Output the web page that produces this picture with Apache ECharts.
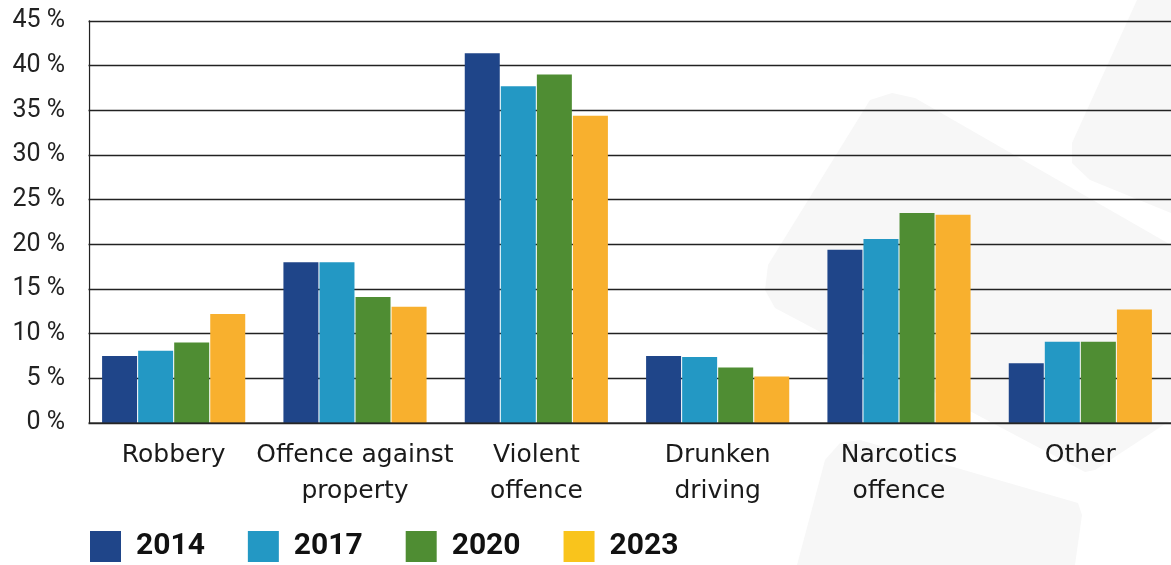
<!DOCTYPE html>
<html>
<head>
<meta charset="utf-8">
<script src="https://cdn.jsdelivr.net/npm/echarts@6/dist/echarts.min.js"></script>
<style>
html,body{margin:0;padding:0;background:#fff;}
#c{width:1171px;height:565px;}
</style>
</head>
<body>
<div id="c"></div>
<script>
const categories = ['Robbery', 'Offence against\nproperty', 'Violent\noffence', 'Drunken\ndriving', 'Narcotics\noffence', 'Other'];
const years = ['2014', '2017', '2020', '2023'];
const v2014 = [7.5, 18.0, 41.4, 7.5, 19.4, 6.7];
const v2017 = [8.1, 18.0, 37.7, 7.4, 20.6, 9.1];
const v2020 = [9.0, 14.1, 39.0, 6.2, 23.5, 9.1];
const v2023 = [12.2, 13.0, 34.4, 5.2, 23.3, 12.7];
const yTicks = { min: 0, max: 45, interval: 5 };

const barColors = ['#1F4589', '#2398C4', '#4F8D33', '#F8B02E'];
const legendColors = ['#1F4589', '#2398C4', '#4F8D33', '#F9C41C'];
const seriesValues = [v2014, v2017, v2020, v2023];

const chart = echarts.init(document.getElementById('c'), null, { renderer: 'canvas' });
const wm = '#f7f7f7';
chart.setOption({
  animation: false,
  backgroundColor: '#fff',
  grid: { left: 83, right: -2, top: 21, bottom: 142, containLabel: false },
  graphic: [
    { type: 'polygon', z: -10, shape: { points: [[870,100],[892,93],[915,98],[1171,245],[1171,420],[1095,470],[1085,472],[775,308],[765,290],[768,265]] }, style: { fill: wm } },
    { type: 'polygon', z: -10, shape: { points: [[1137,0],[1171,0],[1171,213],[1090,180],[1072,163],[1072,143]] }, style: { fill: wm } },
    { type: 'polygon', z: -10, shape: { points: [[797,565],[825,460],[840,443],[860,440],[1078,503],[1082,515],[1075,565]] }, style: { fill: wm } },
    { type: 'rect', z: 100, shape: { x: 76, y: 10, width: 12.5, height: 420 }, style: { fill: '#fff' } }
  ],
  legend: {
    left: 85, top: 526,
    itemWidth: 31, itemHeight: 31, itemGap: 43,
    icon: 'rect',
    textStyle: { fontFamily: 'Roboto', fontWeight: 'bold', fontSize: 30, color: '#111', padding: [0, 0, 0, 10] },
    data: years.map((y, i) => ({ name: y, itemStyle: { color: legendColors[i] } }))
  },
  xAxis: {
    type: 'category',
    data: categories,
    z: 5,
    axisLine: { show: true, lineStyle: { color: 'rgba(40,40,40,0.65)', width: 2 } },
    axisTick: { show: false },
    axisLabel: { fontFamily: 'DejaVu Sans', fontSize: 25, color: '#1a1a1a', lineHeight: 36, margin: 14, interval: 0 }
  },
  yAxis: {
    type: 'value',
    min: yTicks.min, max: yTicks.max, interval: yTicks.interval,
    offset: -6,
    axisLine: { show: true, lineStyle: { color: '#222', width: 1.3 } },
    axisTick: { show: false },
    splitLine: { show: true, lineStyle: { color: '#222', width: 1.3 } },
    axisLabel: { formatter: '{value} %', fontFamily: 'Roboto', fontSize: 25, color: '#222', margin: 24 }
  },
  series: years.map((y, i) => ({
    name: y,
    type: 'bar',
    data: seriesValues[i],
    barWidth: 35,
    barGap: '3%',
    itemStyle: { color: barColors[i] }
  }))
});
</script>
</body>
</html>
